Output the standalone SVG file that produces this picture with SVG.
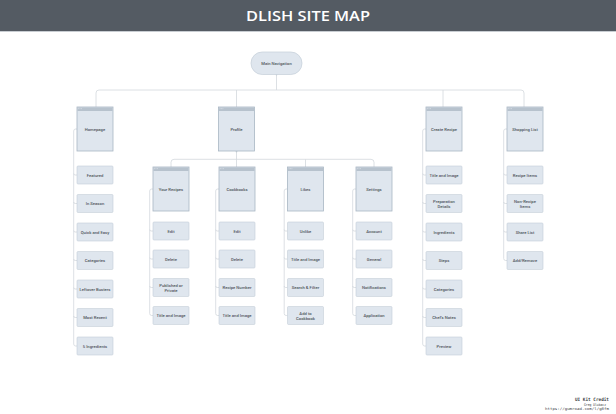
<svg xmlns="http://www.w3.org/2000/svg" xmlns:xlink="http://www.w3.org/1999/xlink" width="616" height="414" viewBox="0 0 616 414">
<defs>
<style>
.bg{fill:#ffffff}
.hdr{fill:#545b63}
.title{font-family:"Open Sans","Liberation Sans",sans-serif;font-size:15px;font-weight:600;fill:#ffffff;text-anchor:middle}
.big{fill:#dfe6ee;stroke:#a9b6c3;stroke-width:0.8}
.strip{fill:#b7c2cd}
.child{fill:#dfe6ee;stroke:#c4ced8;stroke-width:0.6}
.pill{fill:#dfe6ee;stroke:#c4ced8;stroke-width:0.7}
.lbl{font-family:Roboto,"Liberation Sans",sans-serif;font-size:4.2px;font-weight:500;fill:#50565d;text-anchor:middle}
.conn{fill:none;stroke:#d3d8dd;stroke-width:0.8}
.dot{fill:#c9d0d7}
.sd{fill:#dde3ea}
.cr{font-family:"DejaVu Sans Mono","Liberation Mono",monospace;fill:#3c4045;text-anchor:end}
</style>
<g id="dots"><rect class="sd" x="1.2" y="1.3" width="0.8" height="0.8"/><rect class="sd" x="2.6" y="1.3" width="0.8" height="0.8"/><rect class="sd" x="4" y="1.3" width="0.8" height="0.8"/></g>
</defs>
<rect class="bg" x="0" y="0" width="616" height="414"/>
<rect class="hdr" x="0" y="0" width="616" height="31"/>
<rect x="0" y="31" width="616" height="1" fill="#c8cdd2"/>
<text class="title" x="308" y="21.3" textLength="124" lengthAdjust="spacingAndGlyphs">DLISH SITE MAP</text>

<g id="connectors">
<path class="conn" d="M276.5 74V90"/>
<path class="conn" d="M96 107V93q0-3 3-3H521q3 0 3 3V107"/>
<path class="conn" d="M236.5 90V107M443 90V107"/>
<path class="conn" d="M236.5 151V167"/>
<path class="conn" d="M171 167V162.3q0-3 3-3H371q3 0 3 3V167"/>
<path class="conn" d="M305.5 159.3V167"/>
<path class="conn" d="M77 129H75.7q-2 0-2 2V344q0 2 2 2H77M73.7 173.5q0 1.5 1.5 1.5H77M73.7 202q0 1.5 1.5 1.5H77M73.7 230.5q0 1.5 1.5 1.5H77M73.7 259q0 1.5 1.5 1.5H77M73.7 287.5q0 1.5 1.5 1.5H77M73.7 316q0 1.5 1.5 1.5H77"/>
<path class="conn" d="M426 129H424.7q-2 0-2 2V344q0 2 2 2H426M422.7 173.5q0 1.5 1.5 1.5H426M422.7 202q0 1.5 1.5 1.5H426M422.7 230.5q0 1.5 1.5 1.5H426M422.7 259q0 1.5 1.5 1.5H426M422.7 287.5q0 1.5 1.5 1.5H426M422.7 316q0 1.5 1.5 1.5H426"/>
<path class="conn" d="M507 129H505.7q-2 0-2 2V258.5q0 2 2 2H507M503.7 173.5q0 1.5 1.5 1.5H507M503.7 202q0 1.5 1.5 1.5H507M503.7 230.5q0 1.5 1.5 1.5H507"/>
<path class="conn" d="M153 189H151.7q-2 0-2 2V313.5q0 2 2 2H153M149.7 229.5q0 1.5 1.5 1.5H153M149.7 257.5q0 1.5 1.5 1.5H153M149.7 286q0 1.5 1.5 1.5H153"/>
<path class="conn" d="M219 189H217.7q-2 0-2 2V313.5q0 2 2 2H219M215.7 229.5q0 1.5 1.5 1.5H219M215.7 257.5q0 1.5 1.5 1.5H219M215.7 286q0 1.5 1.5 1.5H219"/>
<path class="conn" d="M287.5 189H286.2q-2 0-2 2V313.5q0 2 2 2H287.5M284.2 229.5q0 1.5 1.5 1.5H287.5M284.2 257.5q0 1.5 1.5 1.5H287.5M284.2 286q0 1.5 1.5 1.5H287.5"/>
<path class="conn" d="M356 189H354.7q-2 0-2 2V313.5q0 2 2 2H356M352.7 229.5q0 1.5 1.5 1.5H356M352.7 257.5q0 1.5 1.5 1.5H356M352.7 286q0 1.5 1.5 1.5H356"/>
<circle class="dot" cx="276.5" cy="74.6" r="0.9"/>
<circle class="dot" cx="236.5" cy="151.6" r="0.9"/>
</g>

<g id="main-navigation"><rect class="pill" x="251" y="52" width="51" height="22.5" rx="11.2"/><text class="lbl" x="276.5" y="64.7" font-size="4">Main Navigation</text></g>

<g id="homepage"><rect class="big" x="77" y="107" width="36" height="44"/><rect class="strip" x="77.4" y="107.4" width="35.2" height="3.6"/><use xlink:href="#dots" x="77" y="107"/><text class="lbl" x="95" y="130.5">Homepage</text></g>
<g id="profile"><rect class="big" x="218.5" y="107" width="36" height="44"/><rect class="strip" x="218.9" y="107.4" width="35.2" height="3.6"/><use xlink:href="#dots" x="218.5" y="107"/><text class="lbl" x="236.5" y="130.5">Profile</text></g>
<g id="create-recipe"><rect class="big" x="426" y="107" width="36" height="44"/><rect class="strip" x="426.4" y="107.4" width="35.2" height="3.6"/><use xlink:href="#dots" x="426" y="107"/><text class="lbl" x="444" y="130.5">Create Recipe</text></g>
<g id="shopping-list"><rect class="big" x="507" y="107" width="36" height="44"/><rect class="strip" x="507.4" y="107.4" width="35.2" height="3.6"/><use xlink:href="#dots" x="507" y="107"/><text class="lbl" x="525" y="130.5">Shopping List</text></g>

<g id="your-recipes"><rect class="big" x="153" y="167" width="36" height="44"/><rect class="strip" x="153.4" y="167.4" width="35.2" height="3.6"/><use xlink:href="#dots" x="153" y="167"/><text class="lbl" x="171" y="190.5">Your Recipes</text></g>
<g id="cookbooks"><rect class="big" x="219" y="167" width="36" height="44"/><rect class="strip" x="219.4" y="167.4" width="35.2" height="3.6"/><use xlink:href="#dots" x="219" y="167"/><text class="lbl" x="237" y="190.5">Cookbooks</text></g>
<g id="likes"><rect class="big" x="287.5" y="167" width="36" height="44"/><rect class="strip" x="287.9" y="167.4" width="35.2" height="3.6"/><use xlink:href="#dots" x="287.5" y="167"/><text class="lbl" x="305.5" y="190.5">Likes</text></g>
<g id="settings"><rect class="big" x="356" y="167" width="36" height="44"/><rect class="strip" x="356.4" y="167.4" width="35.2" height="3.6"/><use xlink:href="#dots" x="356" y="167"/><text class="lbl" x="374" y="190.5">Settings</text></g>

<g id="hp-featured"><rect class="child" x="77" y="166" width="36" height="18" rx="1"/><text class="lbl" x="95" y="176.5">Featured</text></g>
<g id="hp-in-season"><rect class="child" x="77" y="194.5" width="36" height="18" rx="1"/><text class="lbl" x="95" y="205">In Season</text></g>
<g id="hp-quick-easy"><rect class="child" x="77" y="223" width="36" height="18" rx="1"/><text class="lbl" x="95" y="233.5">Quick and Easy</text></g>
<g id="hp-categories"><rect class="child" x="77" y="251.5" width="36" height="18" rx="1"/><text class="lbl" x="95" y="262">Categories</text></g>
<g id="hp-leftover"><rect class="child" x="77" y="280" width="36" height="18" rx="1"/><text class="lbl" x="95" y="290.5">Leftover Busters</text></g>
<g id="hp-most-recent"><rect class="child" x="77" y="308.5" width="36" height="18" rx="1"/><text class="lbl" x="95" y="319">Most Recent</text></g>
<g id="hp-5-ingredients"><rect class="child" x="77" y="337" width="36" height="18" rx="1"/><text class="lbl" x="95" y="347.5">5 Ingredients</text></g>

<g id="yr-edit"><rect class="child" x="153" y="222" width="36" height="18" rx="1"/><text class="lbl" x="171" y="232.5">Edit</text></g>
<g id="yr-delete"><rect class="child" x="153" y="250" width="36" height="18" rx="1"/><text class="lbl" x="171" y="260.5">Delete</text></g>
<g id="yr-published"><rect class="child" x="153" y="278.5" width="36" height="18" rx="1"/><text class="lbl" x="171" y="286.5">Published or</text><text class="lbl" x="171" y="291.8">Private</text></g>
<g id="yr-title-image"><rect class="child" x="153" y="306.5" width="36" height="18" rx="1"/><text class="lbl" x="171" y="317">Title and Image</text></g>

<g id="cb-edit"><rect class="child" x="219" y="222" width="36" height="18" rx="1"/><text class="lbl" x="237" y="232.5">Edit</text></g>
<g id="cb-delete"><rect class="child" x="219" y="250" width="36" height="18" rx="1"/><text class="lbl" x="237" y="260.5">Delete</text></g>
<g id="cb-recipe-number"><rect class="child" x="219" y="278.5" width="36" height="18" rx="1"/><text class="lbl" x="237" y="289">Recipe Number</text></g>
<g id="cb-title-image"><rect class="child" x="219" y="306.5" width="36" height="18" rx="1"/><text class="lbl" x="237" y="317">Title and Image</text></g>

<g id="lk-unlike"><rect class="child" x="287.5" y="222" width="36" height="18" rx="1"/><text class="lbl" x="305.5" y="232.5">Unlike</text></g>
<g id="lk-title-image"><rect class="child" x="287.5" y="250" width="36" height="18" rx="1"/><text class="lbl" x="305.5" y="260.5">Title and Image</text></g>
<g id="lk-search"><rect class="child" x="287.5" y="278.5" width="36" height="18" rx="1"/><text class="lbl" x="305.5" y="289">Search &amp; Filter</text></g>
<g id="lk-add-cookbook"><rect class="child" x="287.5" y="306.5" width="36" height="18" rx="1"/><text class="lbl" x="305.5" y="314.5">Add to</text><text class="lbl" x="305.5" y="319.8">Cookbook</text></g>

<g id="st-account"><rect class="child" x="356" y="222" width="36" height="18" rx="1"/><text class="lbl" x="374" y="232.5">Account</text></g>
<g id="st-general"><rect class="child" x="356" y="250" width="36" height="18" rx="1"/><text class="lbl" x="374" y="260.5">General</text></g>
<g id="st-notifications"><rect class="child" x="356" y="278.5" width="36" height="18" rx="1"/><text class="lbl" x="374" y="289">Notifications</text></g>
<g id="st-application"><rect class="child" x="356" y="306.5" width="36" height="18" rx="1"/><text class="lbl" x="374" y="317">Application</text></g>

<g id="cr-title-image"><rect class="child" x="426" y="166" width="36" height="18" rx="1"/><text class="lbl" x="444" y="176.5">Title and Image</text></g>
<g id="cr-preparation"><rect class="child" x="426" y="194.5" width="36" height="18" rx="1"/><text class="lbl" x="444" y="202.5">Preparation</text><text class="lbl" x="444" y="207.8">Details</text></g>
<g id="cr-ingredients"><rect class="child" x="426" y="223" width="36" height="18" rx="1"/><text class="lbl" x="444" y="233.5">Ingredients</text></g>
<g id="cr-steps"><rect class="child" x="426" y="251.5" width="36" height="18" rx="1"/><text class="lbl" x="444" y="262">Steps</text></g>
<g id="cr-categories"><rect class="child" x="426" y="280" width="36" height="18" rx="1"/><text class="lbl" x="444" y="290.5">Categories</text></g>
<g id="cr-chefs-notes"><rect class="child" x="426" y="308.5" width="36" height="18" rx="1"/><text class="lbl" x="444" y="319">Chef’s Notes</text></g>
<g id="cr-preview"><rect class="child" x="426" y="337" width="36" height="18" rx="1"/><text class="lbl" x="444" y="347.5">Preview</text></g>

<g id="sl-recipe-items"><rect class="child" x="507" y="166" width="36" height="18" rx="1"/><text class="lbl" x="525" y="176.5">Recipe Items</text></g>
<g id="sl-non-recipe"><rect class="child" x="507" y="194.5" width="36" height="18" rx="1"/><text class="lbl" x="525" y="202.5">Non-Recipe</text><text class="lbl" x="525" y="207.8">Items</text></g>
<g id="sl-share"><rect class="child" x="507" y="223" width="36" height="18" rx="1"/><text class="lbl" x="525" y="233.5">Share List</text></g>
<g id="sl-add-remove"><rect class="child" x="507" y="251.5" width="36" height="18" rx="1"/><text class="lbl" x="525" y="262">Add/Remove</text></g>

<g id="credit">
<text class="cr" x="609" y="401" font-size="4.6" font-weight="700" textLength="34" lengthAdjust="spacingAndGlyphs">UI Kit Credit</text>
<text class="cr" x="606" y="405.5" font-size="3.6" fill="#5a5e63" textLength="22" lengthAdjust="spacingAndGlyphs">Greg Dlubacz</text>
<text class="cr" x="609" y="410" font-size="3.5" fill="#5a5e63" textLength="64" lengthAdjust="spacingAndGlyphs">https://gumroad.com/l/g8fm</text>
</g>
</svg>
